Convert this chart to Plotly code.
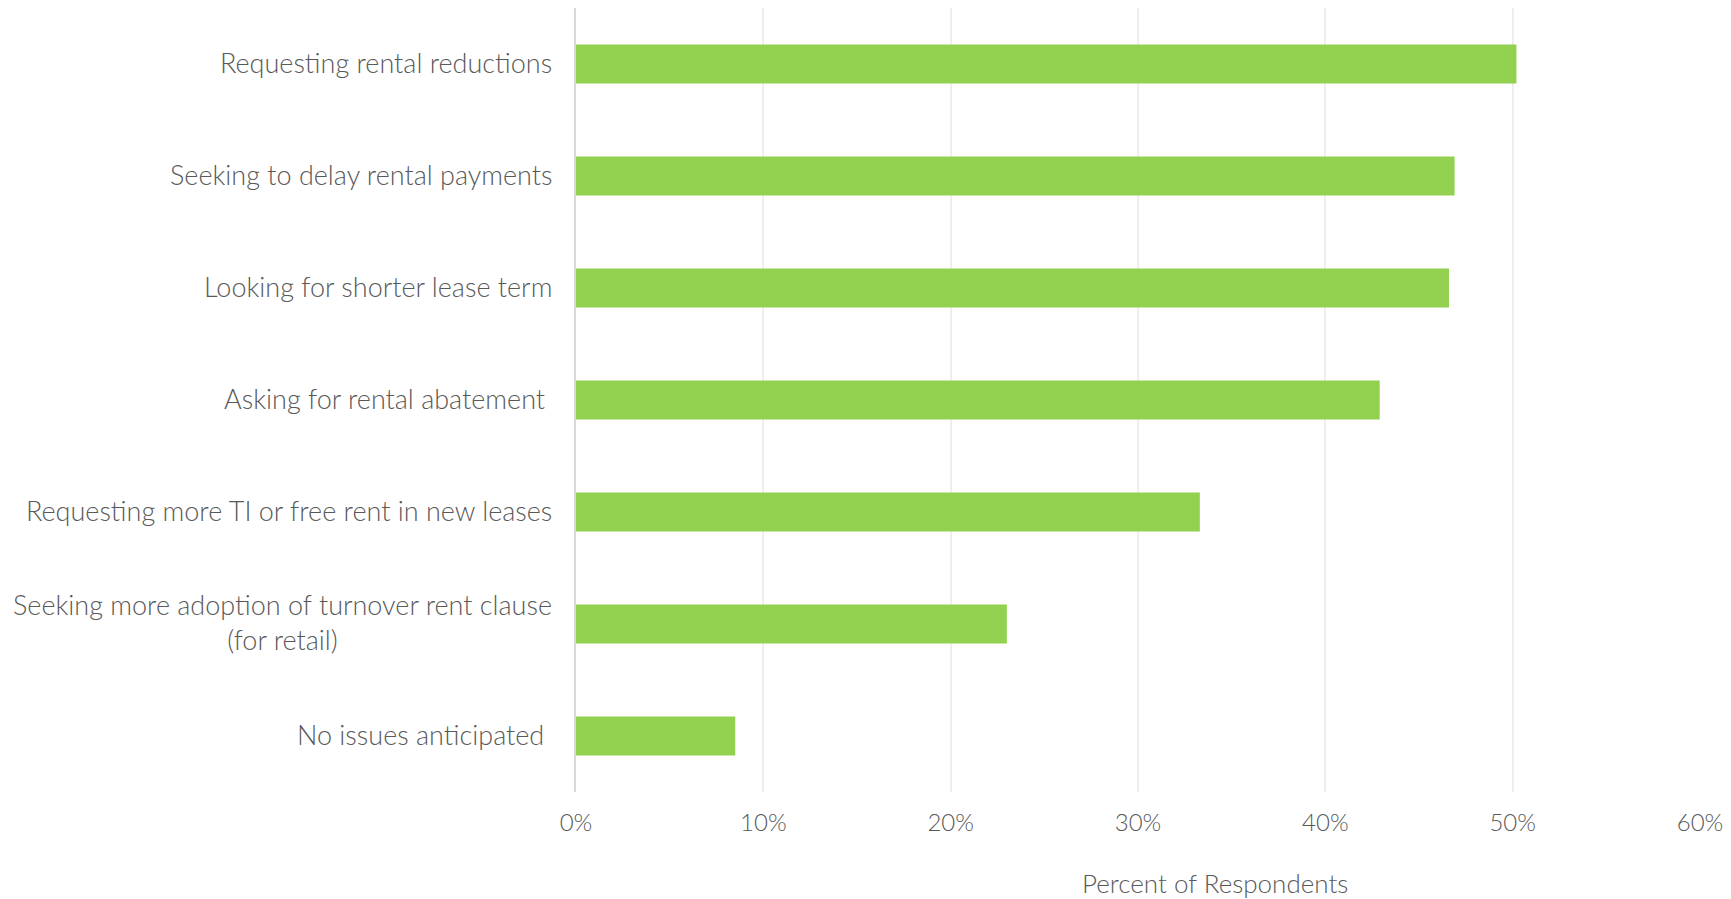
import plotly.graph_objects as go

# Survey responses: share of respondents anticipating each tenant request
categories = [
    "Requesting rental reductions",
    "Seeking to delay rental payments",
    "Looking for shorter lease term",
    "Asking for rental abatement ",
    "Requesting more TI or free rent in new leases",
    "Seeking more adoption of turnover rent clause<br>(for retail)",
    "No issues anticipated ",
]
shares = [0.502, 0.469, 0.466, 0.429, 0.333, 0.230, 0.085]

tick_values = [0, 0.1, 0.2, 0.3, 0.4, 0.5, 0.6]
tick_labels = ["0%", "10%", "20%", "30%", "40%", "50%", "60%"]

axis_title = "Percent of Respondents"

FONT = "Lato"
TEXT_COLOR = "#595959"
BAR_COLOR = "#92D050"

fig = go.Figure(
    go.Bar(
        x=shares,
        y=categories,
        orientation="h",
        marker=dict(color=BAR_COLOR, line=dict(width=0)),
        hoverinfo="x+y",
    )
)


def label_text(cat):
    # keep trailing spaces visible in SVG text
    stripped = cat.rstrip(" ")
    return stripped + "\u00a0" * (len(cat) - len(stripped))


# Category labels drawn as annotations so wrapped lines stay centred
annotations = [
    dict(
        x=0, xref="paper", y=cat, yref="y",
        text=label_text(cat), showarrow=False,
        xanchor="right", yanchor="middle", align="center",
        xshift=-22, yshift=2,
        font=dict(family=FONT, size=27, color=TEXT_COLOR, weight=300),
    )
    for cat in categories
]
annotations.append(
    dict(
        x=0.5688, xref="paper", y=-0.116, yref="paper",
        text=axis_title, showarrow=False,
        xanchor="center", yanchor="middle",
        font=dict(family=FONT, size=26, color=TEXT_COLOR, weight=300),
    )
)

fig.update_layout(
    width=1731,
    height=899,
    margin=dict(l=576, r=28, t=8, b=107),
    plot_bgcolor="white",
    paper_bgcolor="white",
    showlegend=False,
    bargap=0.65,
    annotations=annotations,
    xaxis=dict(
        range=[0, 0.6],
        tickvals=tick_values,
        ticktext=tick_labels,
        showgrid=True,
        gridcolor="#EEEEEE",
        gridwidth=1.5,
        zeroline=False,
        showline=False,
        ticks="outside",
        ticklen=9,
        tickcolor="rgba(0,0,0,0)",
        tickfont=dict(family=FONT, size=24, color=TEXT_COLOR, weight=300),
    ),
    yaxis=dict(
        categoryorder="array",
        categoryarray=categories[::-1],
        showticklabels=False,
        showgrid=False,
        zeroline=False,
        showline=True,
        linecolor="#D9D9D9",
        linewidth=1.5,
    ),
)

fig.write_html("out.html")
